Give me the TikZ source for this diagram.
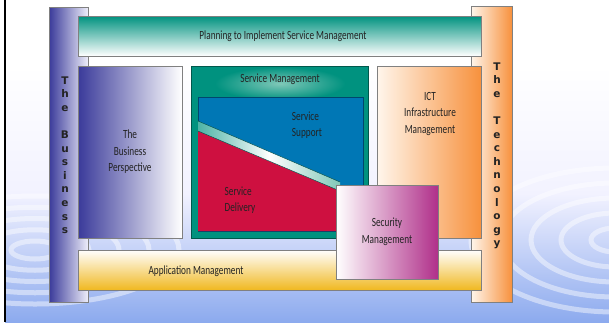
\documentclass[tikz,border=0pt]{standalone}
\usepackage{fontspec}
\newfontfamily\condfont[FakeStretch=0.74]{Carlito}
\newfontfamily\barfont{DejaVu Sans}
\definecolor{bizblue}{RGB}{58,58,154}
\definecolor{bizlight}{RGB}{238,238,250}
\definecolor{smteal}{RGB}{0,146,127}
\definecolor{smlight}{RGB}{128,200,184}
\definecolor{supblue}{RGB}{0,119,181}
\definecolor{delred}{RGB}{206,16,64}
\definecolor{techorange}{RGB}{247,145,61}
\definecolor{techlight}{RGB}{255,246,236}
\definecolor{appgold}{RGB}{240,184,32}
\definecolor{secmag}{RGB}{176,48,138}
\definecolor{skyblue}{RGB}{140,170,238}
\definecolor{edgegray}{RGB}{128,128,128}
\definecolor{inkgray}{RGB}{35,35,35}
\usetikzlibrary{positioning}

\begin{document}
\begin{tikzpicture}[x=1pt, y=-1pt,
  box/.style={draw=edgegray, line width=0.7pt, inner sep=0pt, rectangle},
  label/.style={font=\condfont\fontsize{12.5}{16.5}\selectfont, text=inkgray, align=center},
  barletter/.style={font=\barfont\bfseries\fontsize{10.5}{12}\selectfont, text=inkgray, anchor=base, inner sep=0pt}]
  \useasboundingbox (0,0) rectangle (609,322);
  % background
  \fill[white] (0,0) rectangle (609,322);
  \shade[top color=white, bottom color=skyblue, middle color=blue!5] (5,65) rectangle (609,322);
  \begin{scope}
    \clip (5,150) rectangle (609,322);
    \foreach \r in {20,45,70,95,120}
      \draw[white, line width=5pt, opacity=0.45] (35,250) ellipse ({\r*1.2} and {\r*0.45});
    \foreach \r in {20,45,70,95,120}
      \draw[white, line width=5pt, opacity=0.45] (615,240) ellipse ({\r*1.2} and {\r*0.6});
  \end{scope}
  \draw[black, line width=2pt] (4.5,0) -- (4.5,322);

  % side bars
  \node[box, minimum width=39, minimum height=295, left color=bizblue, right color=bizlight] (bizbar) at (68.5,154.5) {};
  \node[box, minimum width=41, minimum height=296, left color=techlight, right color=techorange] (techbar) at (491.5,154) {};
  \foreach \ch [count=\i from 0] in {T,h,e}
    \node[barletter] (bizA\i) at (65,84+\i*13.6) {\ch};
  \foreach \ch [count=\i from 4] in {B,u,s,i,n,e,s,s}
    \node[barletter] (bizB\i) at (65,84+\i*13.6) {\ch};
  \foreach \ch [count=\i from 0] in {T,h,e}
    \node[barletter] (techA\i) at (497,70+\i*13.6) {\ch};
  \foreach \ch [count=\i from 4] in {T,e,c,h,n,o,l,o,g,y}
    \node[barletter] (techB\i) at (497,70+\i*13.6) {\ch};

  % horizontal bars
  \node[box, minimum width=403, minimum height=40, top color=smteal, bottom color=white, label] (plan) at (279.5,36) {\hspace{7pt}Planning to Implement Service Management};
  \node[box, minimum width=403, minimum height=40, top color=white, bottom color=appgold] (app) at (279.5,270) {};
  \node[label] (applabel) at (196,271) {Application Management};

  % columns
  \node[box, minimum width=104, minimum height=172, left color=bizblue, right color=white, label] (bizpersp) at (130,152) {The\\Business\\Perspective};
  \node[box, minimum width=104, minimum height=172, left color=techlight, right color=techorange] (ict) at (429,152) {};
  \node[label] (ictlabel) at (430,114) {ICT\\Infrastructure\\Management};

  % service management
  \node[box, draw=smteal!60!black, minimum width=177, minimum height=172, fill=smteal] (sm) at (279.5,152) {};
  \shade[inner color=smlight, outer color=smteal, shading=radial] (215,67) rectangle (345,100);
  \node[label] (smlabel) at (280,79) {Service Management};
  \node[draw=supblue!60!black, line width=0.5pt, inner sep=0pt, minimum width=165, minimum height=134, fill=supblue] (support) at (280.5,164) {};
  \fill[delred] (198,131) -- (340,191) -- (340,231) -- (198,231) -- cycle;
  \shade[left color=smteal!70, right color=smlight, middle color=white]
    (198,121) -- (340,182) -- (340,191) -- (198,131) -- cycle;
  \draw[smteal!50!black, line width=0.4pt] (198,121) -- (340,182) (198,131) -- (340,191);
  \node[label, align=left] (suplabel) at (307,125) {Service\\Support};
  \node[label, align=left] (dellabel) at (240,200) {Service\\Delivery};

  % security
  \node[box, minimum width=102, minimum height=94, left color=white, right color=secmag, label] (sec) at (387,232) {Security\\Management};
\end{tikzpicture}
\end{document}
